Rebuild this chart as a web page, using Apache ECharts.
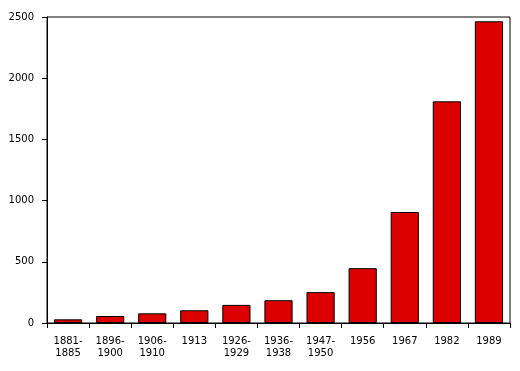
<!DOCTYPE html>
<html><head><meta charset="utf-8">
<script src="https://cdn.jsdelivr.net/npm/echarts@6/dist/echarts.min.js"></script>
<style>html,body{margin:0;padding:0;background:#fff}#c{width:520px;height:371px}</style>
</head><body><div id="c"></div>
<script>
const categories = ['1881-\n1885','1896-\n1900','1906-\n1910','1913','1926-\n1929','1936-\n1938','1947-\n1950','1956','1967','1982','1989'];
const values = [30, 57, 79, 104, 148, 186, 252, 448, 907, 1811, 2465];
const yTicks = [0, 500, 1000, 1500, 2000, 2500];

const chart = echarts.init(document.getElementById('c'), null, {renderer:'canvas'});
chart.setOption({
  animation: false,
  backgroundColor: '#fff',
  grid: {left: 47, top: 17, right: 10, bottom: 48, show: true, borderColor: '#000', borderWidth: 1, containLabel: false},
  xAxis: {
    type: 'category', data: categories, boundaryGap: true,
    axisLine: {lineStyle: {color: '#000', width: 1}},
    axisTick: {show: true, length: 5, lineStyle: {color: '#000'}},
    axisLabel: {color: '#000', fontFamily: 'DejaVu Sans', fontSize: 10, margin: 12, lineHeight: 12, interval: 0}
  },
  yAxis: {
    type: 'value', min: yTicks[0], max: yTicks[yTicks.length-1], interval: 500,
    axisLine: {show: true, lineStyle: {color: '#000', width: 1}},
    axisTick: {show: true, length: 5, lineStyle: {color: '#000'}},
    splitLine: {show: false},
    axisLabel: {color: '#000', fontFamily: 'DejaVu Sans', fontSize: 10, margin: 13, formatter: v => String(v)}
  },
  series: [{
    type: 'bar', data: values, barCategoryGap: '33%',
    itemStyle: {color: '#dd0000', borderColor: '#000', borderWidth: 1}
  }]
});
</script></body></html>
